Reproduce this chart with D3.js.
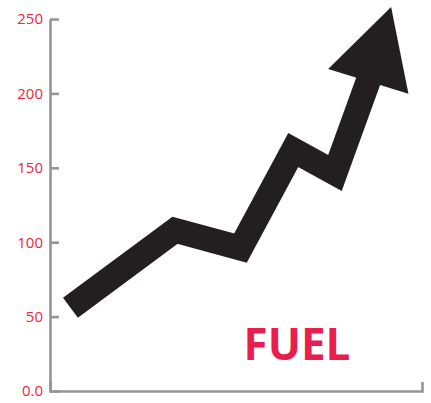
<!DOCTYPE html>
<html>
<head>
<meta charset="utf-8">
<script src="https://cdn.jsdelivr.net/npm/d3@7"></script>
<style>
  body { margin: 0; background: #fff; }
  svg { display: block; }
</style>
</head>
<body>
<script>
// data
var xVals = [5.5, 33.6, 51.2, 65.4, 76.6, 85.8];
var yVals = [56, 108, 96, 162, 146.5, 210];
var tip = { x: 91.7, y: 258 };
var tickVals = [0, 50, 100, 150, 200, 250];
var tickLabels = ["0.0", "50", "100", "150", "200", "250"];
var title = "FUEL";

var W = 431, H = 403;
var svg = d3.select("body").append("svg")
    .attr("width", W)
    .attr("height", H);

var x = d3.scaleLinear().domain([0, 100]).range([50, 422]);
var y = d3.scaleLinear().domain([0, 250]).range([391, 19]);

// y axis, ticks pointing right
var yAxis = svg.append("g")
    .attr("transform", "translate(50,0)")
    .call(d3.axisLeft(y)
        .tickValues(tickVals)
        .tickFormat(function(d, i) { return tickLabels[i]; })
        .tickSizeInner(-9)
        .tickSizeOuter(0)
        .tickPadding(7));

// x axis, no ticks, small up-turn at the end
var xAxis = svg.append("g")
    .attr("transform", "translate(0,391)")
    .call(d3.axisBottom(x).tickValues([]).tickSizeOuter(-9));

svg.selectAll(".domain, .tick line")
    .attr("stroke", "#939598")
    .attr("stroke-width", 2.6);
yAxis.selectAll("text")
    .attr("fill", "#ee2636")
    .style("font-family", "'Open Sans', sans-serif")
    .style("font-size", "15px");

// thick arrow line
var pts = xVals.map(function(d, i) { return [x(d), y(yVals[i])]; });
var line = d3.line();
svg.append("path")
    .attr("d", line(pts))
    .attr("fill", "none")
    .attr("stroke", "#231f20")
    .attr("stroke-width", 25)
    .attr("stroke-linejoin", "miter")
    .attr("stroke-miterlimit", 10)
    .attr("stroke-linecap", "butt");

// arrow head
var base = pts[pts.length - 1];
var tx = x(tip.x), ty = y(tip.y);
var dx = tx - base[0], dy = ty - base[1];
var len = Math.sqrt(dx * dx + dy * dy);
var px = -dy / len, py = dx / len;
var half = 42;
var b0 = [base[0] - dx / len * 3, base[1] - dy / len * 3];
svg.append("path")
    .attr("d", d3.line()([[tx, ty],
        [b0[0] + px * half, b0[1] + py * half],
        [b0[0] - px * half, b0[1] - py * half]]) + "Z")
    .attr("fill", "#231f20");

svg.append("text")
    .attr("x", 297)
    .attr("y", 360)
    .attr("text-anchor", "middle")
    .attr("fill", "#e91e4f")
    .style("font-family", "'Open Sans', sans-serif")
    .style("font-weight", "bold")
    .style("font-size", "44px")
    .text(title);
</script>
</body>
</html>
